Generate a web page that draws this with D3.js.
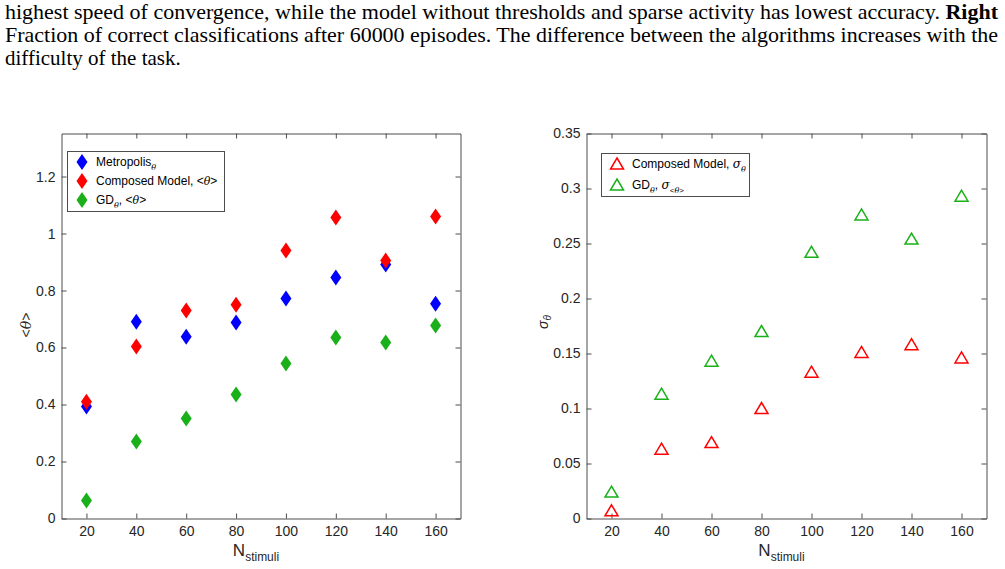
<!DOCTYPE html>
<html>
<meta charset="utf-8">
<head>
  <script src="https://d3js.org/d3.v7.min.js"></script>
</head>
<style>
  body { margin: 0; background: white; }
  svg text { font-family: 'Liberation Sans', Arial, sans-serif; }
  svg text.cap { font-family: 'Liberation Serif', serif; font-size: 21px; fill: #000; }
  .tick text { font-size: 14px; fill: #262626; }
</style>
<body>
<script>
  // data
  var nStimuli = [20, 40, 60, 80, 100, 120, 140, 160];
  var metropolisMean = [0.393, 0.690, 0.638, 0.688, 0.772, 0.846, 0.891, 0.754];
  var composedMean   = [0.410, 0.604, 0.730, 0.750, 0.940, 1.056, 0.905, 1.060];
  var gdMean         = [0.063, 0.270, 0.351, 0.435, 0.544, 0.635, 0.618, 0.677];
  var composedSigma  = [0.007, 0.063, 0.069, 0.100, 0.133, 0.151, 0.158, 0.146];
  var gdSigma        = [0.024, 0.113, 0.143, 0.170, 0.242, 0.276, 0.254, 0.293];

  var xTicks = [20, 40, 60, 80, 100, 120, 140, 160];
  var yTicksL = [0, 0.2, 0.4, 0.6, 0.8, 1, 1.2];
  var yTicksR = [0, 0.05, 0.1, 0.15, 0.2, 0.25, 0.3, 0.35];

  var W = 1005, H = 569;
  var svg = d3.select("body").append("svg").attr("width", W).attr("height", H);

  // caption text above the figure
  var cap = svg.append("g");
  cap.append("text").attr("class", "cap").attr("x", 5).attr("y", 19)
    .attr("textLength", 993).attr("lengthAdjust", "spacingAndGlyphs")
    .html('highest speed of convergence, while the model without thresholds and sparse activity has lowest accuracy. <tspan font-weight="bold">Right</tspan>');
  cap.append("text").attr("class", "cap").attr("x", 5).attr("y", 42)
    .attr("textLength", 993).attr("lengthAdjust", "spacingAndGlyphs")
    .text("Fraction of correct classifications after 60000 episodes. The difference between the algorithms increases with the");
  cap.append("text").attr("class", "cap").attr("x", 5).attr("y", 65)
    .text("difficulty of the task.");

  var axisCol = "#4d4d4d";
  var diamond = "M0,-8L5.5,0L0,8L-5.5,0Z";
  var triangle = "M0,-6L6.5,5L-6.5,5Z";

  function panel(left, right, yMax, yTicks, fmt) {
    var top = 133.5, bottom = 518.5;
    var g = svg.append("g");
    var x = d3.scaleLinear().domain([10, 170]).range([left, right]);
    var y = d3.scaleLinear().domain([0, yMax]).range([bottom, top]);

    var ax = function (a) {
      a.selectAll("path").attr("stroke", axisCol);
      a.selectAll("line").attr("stroke", axisCol);
    };
    g.append("g").attr("transform", "translate(0," + bottom + ")")
      .call(d3.axisBottom(x).tickValues(xTicks).tickSizeInner(-5).tickSizeOuter(0).tickPadding(8))
      .call(ax);
    g.append("g").attr("transform", "translate(0," + top + ")")
      .call(d3.axisTop(x).tickValues(xTicks).tickSizeInner(-5).tickSizeOuter(0).tickFormat(""))
      .call(ax);
    g.append("g").attr("transform", "translate(" + left + ",0)")
      .call(d3.axisLeft(y).tickValues(yTicks).tickSizeInner(-5).tickSizeOuter(0).tickPadding(6).tickFormat(fmt))
      .call(ax);
    g.append("g").attr("transform", "translate(" + right + ",0)")
      .call(d3.axisRight(y).tickValues(yTicks).tickSizeInner(-5).tickSizeOuter(0).tickFormat(""))
      .call(ax);
    g.selectAll(".domain").attr("stroke", axisCol);

    // x label
    var xl = g.append("text").attr("x", (left + right) / 2 - 5).attr("y", 556)
      .attr("text-anchor", "middle").attr("fill", "#262626").attr("font-size", 17);
    xl.append("tspan").text("N");
    xl.append("tspan").attr("font-size", 12).attr("dy", 5).text("stimuli");
    return { g: g, x: x, y: y };
  }

  var fmtL = function (d) { return d === 0 ? "0" : d3.format("")(d); };
  var L = panel(61.5, 460.5, 1.351, yTicksL, fmtL);
  var R = panel(586.5, 986.5, 0.35, yTicksR, function (d) { return d3.format("")(d); });

  // y labels
  L.g.append("text").attr("transform", "translate(31,325) rotate(-90)")
    .attr("text-anchor", "middle").attr("fill", "#262626").attr("font-size", 14)
    .html('&lt;<tspan font-family="DejaVu Serif" font-style="italic">θ</tspan>&gt;');
  var ry = R.g.append("text").attr("transform", "translate(548,322) rotate(-90)")
    .attr("text-anchor", "middle").attr("fill", "#262626").attr("font-size", 14)
    .attr("font-family", "DejaVu Serif").attr("font-style", "italic");
  ry.append("tspan").text("σ");
  ry.append("tspan").attr("font-size", 10).attr("dy", 3).text("θ");

  // left markers
  function diamonds(vals, color) {
    L.g.append("g").selectAll("path").data(nStimuli).enter().append("path")
      .attr("d", diamond).attr("fill", color)
      .attr("transform", function (d, i) { return "translate(" + L.x(d) + "," + L.y(vals[i]) + ")"; });
  }
  diamonds(metropolisMean, "#0000ff");
  diamonds(composedMean, "#ff0000");
  diamonds(gdMean, "#1ab01a");

  function triangles(vals, color) {
    R.g.append("g").selectAll("path").data(nStimuli).enter().append("path")
      .attr("d", triangle).attr("fill", "none").attr("stroke", color).attr("stroke-width", 1.5)
      .attr("transform", function (d, i) { return "translate(" + R.x(d) + "," + R.y(vals[i]) + ")"; });
  }
  triangles(composedSigma, "#ff0000");
  triangles(gdSigma, "#1ab01a");

  // legends
  var th = 'font-family="DejaVu Serif" font-style="italic"';
  var lg = L.g.append("g");
  lg.append("rect").attr("x", 67.5).attr("y", 151.5).attr("width", 157).attr("height", 60)
    .attr("fill", "white").attr("stroke", axisCol);
  var leftItems = [
    { c: "#0000ff", html: 'Metropolis<tspan dy="4" font-size="8" ' + th + '>θ</tspan>' },
    { c: "#ff0000", html: 'Composed Model, &lt;<tspan ' + th + ' font-size="11">θ</tspan>&gt;' },
    { c: "#1ab01a", html: 'GD<tspan dy="4" font-size="8" ' + th + '>θ</tspan><tspan dy="-4">, &lt;</tspan><tspan ' + th + ' font-size="11">θ</tspan>&gt;' }
  ];
  leftItems.forEach(function (it, i) {
    var yy = 162 + i * 19;
    lg.append("path").attr("d", diamond).attr("fill", it.c)
      .attr("transform", "translate(82," + yy + ")");
    lg.append("text").attr("x", 96).attr("y", yy + 4).attr("font-size", 12).attr("fill", "#000").html(it.html);
  });

  var rg = R.g.append("g");
  rg.append("rect").attr("x", 601.5).attr("y", 153.5).attr("width", 148).attr("height", 43)
    .attr("fill", "white").attr("stroke", axisCol);
  var rightItems = [
    { c: "#ff0000", html: 'Composed Model, <tspan ' + th + '>σ</tspan><tspan dy="4" font-size="8" ' + th + '>θ</tspan>' },
    { c: "#1ab01a", html: 'GD<tspan dy="4" font-size="8" ' + th + '>θ</tspan><tspan dy="-4">, </tspan><tspan ' + th + '>σ</tspan><tspan dy="4" font-size="8">&lt;<tspan ' + th + '>θ</tspan>&gt;</tspan>' }
  ];
  rightItems.forEach(function (it, i) {
    var yy = 164 + i * 21;
    rg.append("path").attr("d", triangle).attr("fill", "none").attr("stroke", it.c).attr("stroke-width", 1.5)
      .attr("transform", "translate(617," + yy + ")");
    rg.append("text").attr("x", 632).attr("y", yy + 4).attr("font-size", 12).attr("fill", "#000").html(it.html);
  });
</script>
</body>
</html>
